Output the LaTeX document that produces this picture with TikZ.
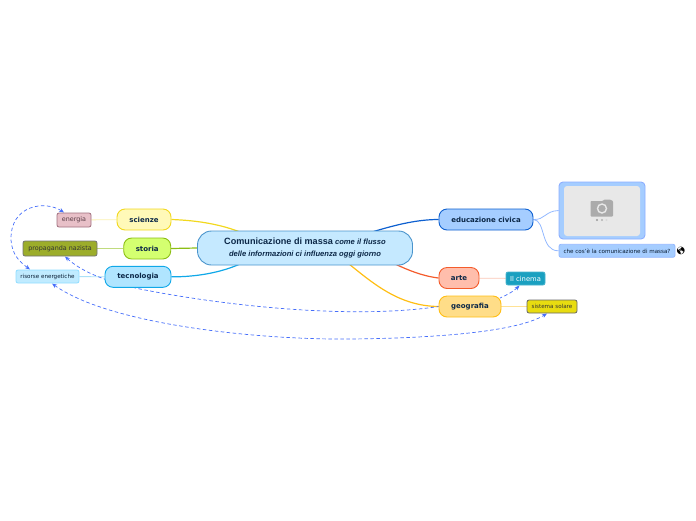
\documentclass[tikz,border=0pt]{standalone}
\usepackage{fontspec}
\setmainfont{DejaVu Sans}
\newfontfamily\headfont{Liberation Sans}
\newfontfamily\emojifont{Noto Emoji}
\usetikzlibrary{arrows.meta, backgrounds}
\definecolor{inktext}{RGB}{12, 40, 72}
\definecolor{rootfill}{RGB}{197, 233, 255}
\definecolor{rootline}{RGB}{74, 148, 204}
\definecolor{scifill}{RGB}{255, 249, 184}
\definecolor{sciline}{RGB}{242, 216, 30}
\definecolor{stofill}{RGB}{212, 255, 112}
\definecolor{stoline}{RGB}{140, 190, 20}
\definecolor{tecfill}{RGB}{176, 229, 255}
\definecolor{tecline}{RGB}{16, 168, 232}
\definecolor{edufill}{RGB}{165, 205, 255}
\definecolor{eduline}{RGB}{14, 96, 208}
\definecolor{artfill}{RGB}{255, 190, 172}
\definecolor{artline}{RGB}{244, 92, 44}
\definecolor{geofill}{RGB}{255, 221, 136}
\definecolor{geoline}{RGB}{255, 190, 20}
\definecolor{enefill}{RGB}{232, 192, 200}
\definecolor{eneline}{RGB}{160, 110, 125}
\definecolor{profill}{RGB}{156, 173, 42}
\definecolor{risfill}{RGB}{192, 235, 255}
\definecolor{risline}{RGB}{144, 221, 255}
\definecolor{cinfill}{RGB}{26, 160, 192}
\definecolor{solfill}{RGB}{232, 220, 16}
\definecolor{linkblue}{RGB}{70, 110, 250}

\begin{document}
\begin{tikzpicture}[
    x=1pt, y=-1pt,
    topic/.style 2 args={
        rectangle, rounded corners=8pt, draw=#1, fill=#2, line width=0.9pt,
        inner sep=0pt, font=\fontsize{7}{8}\selectfont\bfseries, text=inktext
    },
    leaf/.style 2 args={
        rectangle, rounded corners=2pt, draw=#1, fill=#2, line width=0.8pt,
        inner sep=0pt, font=\fontsize{6.4}{8}\selectfont, text=inktext!70!black
    },
    branch/.style={line width=1.2pt, #1},
    twig/.style={line width=0.8pt, #1},
    link/.style={
        {Stealth[length=5pt, width=4pt]}-, dash pattern=on 3.5pt off 2.5pt,
        line width=0.7pt, linkblue
    },
    linkboth/.style={
        link, {Stealth[length=5pt, width=4pt]}-{Stealth[length=5pt, width=4pt]}
    }
]
\useasboundingbox (0,0) rectangle (696,520);

% Central topic
\node[rectangle, rounded corners=14pt, draw=rootline, fill=rootfill, line width=0.9pt,
      minimum width=215pt, minimum height=34pt, inner sep=0pt, text=inktext, align=center,
      font=\headfont\fontsize{7.6}{12}\selectfont\bfseries\itshape] (root) at (305,248)
      {{\fontsize{9.1}{12}\selectfont\upshape Comunicazione di massa} come il flusso\\
       delle informazioni ci influenza oggi giorno};

% Main topics (left)
\node[topic={sciline}{scifill}, minimum width=54pt, minimum height=21pt] (scienze) at (144,219.5) {scienze};
\node[topic={stoline}{stofill}, minimum width=47pt, minimum height=21pt] (storia) at (147.2,248.5) {storia};
\node[topic={tecline}{tecfill}, minimum width=66pt, minimum height=21pt] (tecnologia) at (138,276.8) {tecnologia};

% Main topics (right)
\node[topic={eduline}{edufill}, minimum width=94pt, minimum height=21pt] (educazione) at (486,219.5) {educazione civica};
\node[topic={artline}{artfill}, minimum width=40pt, minimum height=21pt] (arte) at (459,278) {arte};
\node[topic={geoline}{geofill}, minimum width=62pt, minimum height=21pt] (geografia) at (470,306.5) {geografia};

% Subtopics
\node[leaf={eneline}{enefill}, minimum width=34pt, minimum height=14pt, text=eneline!55!black] (energia) at (74,220) {energia};
\node[leaf={black!55}{profill}, minimum width=74pt, minimum height=15pt, text=black!80] (propaganda) at (60,248.5) {propaganda nazista};
\node[leaf={risline}{risfill}, minimum width=63pt, minimum height=13pt, font=\fontsize{5.6}{7}\selectfont] (risorse) at (47.5,276.5) {risorse energetiche};
\node[leaf={cinfill!80!white}{cinfill}, minimum width=39pt, minimum height=13pt, font=\fontsize{6.8}{8}\selectfont, text=white] (cinema) at (525.5,278.5) {Il cinema};
\node[leaf={black!60}{solfill}, minimum width=50pt, minimum height=13pt, font=\fontsize{5.6}{7}\selectfont, text=black!80] (solare) at (552,306.5) {sistema solare};
\node[leaf={edufill!90!blue}{edufill}, minimum width=116pt, minimum height=13pt, font=\fontsize{5.6}{7}\selectfont] (domanda) at (617,250.8) {che cos'è la comunicazione di massa?};
\node[font=\emojifont\fontsize{7.5}{8}\selectfont, inner sep=0pt] (globo) at (681,251) {🌎};

% Image placeholder
\node[rectangle, rounded corners=4pt, draw=edufill!85!blue, fill=edufill, line width=0.9pt,
      minimum width=86pt, minimum height=57pt, inner sep=0pt] (immagine) at (602,210.5) {};
\node[rectangle, rounded corners=3pt, fill=black!9, minimum width=76pt, minimum height=50pt,
      inner sep=0pt] (sfondo) at (602,211) {};
\fill[black!33, rounded corners=0.8pt] (590.5,201) -- (603,201) -- (604,199.5) -- (610,199.5) -- (613,201) -- (613,216.5) -- (590.5,216.5) -- cycle;
\draw[black!9, line width=1.4pt] (602,208.5) circle (4.5);
\foreach \dotx/\dotcol in {597/black!40, 602/black!30, 606.5/black!15} {
    \fill[\dotcol] (\dotx,220) circle (1.2);
}

% Free ends under the central topic
\coordinate (rootsci) at (240,232);
\coordinate (roottec) at (240,264);
\coordinate (rootedu) at (372,232);
\coordinate (rootart) at (395,264);
\coordinate (rootgeo) at (349,264);

% Free ends of the relations
\coordinate (eneend) at (64,212.5);
\coordinate (risend) at (30,269.5);
\coordinate (proend) at (65,256.5);
\coordinate (risbot) at (52,283.5);
\coordinate (solbot) at (547,313.5);
\coordinate (cinbot) at (519.5,285.5);
\coordinate (geotop) at (500,298);

\begin{scope}[on background layer]
% Branches from the central topic
\draw[branch=sciline] (scienze.east) .. controls (200,220.5) and (222,225) .. (rootsci);
\draw[branch=stoline] (storia.east) -- (root.west);
\draw[branch=tecline] (tecnologia.east) .. controls (198,277) and (222,272) .. (roottec);
\draw[branch=eduline] (educazione.west) .. controls (415,219.5) and (392,226) .. (rootedu);
\draw[branch=artline] (arte.west) .. controls (422,276) and (408,270) .. (rootart);
\draw[branch=geoline] (geografia.west) .. controls (400,306) and (375,285) .. (rootgeo);

% Lines to the subtopics
\draw[twig=sciline!35] (scienze) -- (energia);
\draw[twig=stoline!55] (storia) -- (propaganda);
\draw[twig=tecline!35] (tecnologia) -- (risorse);
\draw[twig=artline!35] (arte) -- (cinema);
\draw[twig=geoline!45] (geografia) -- (solare);
\draw[twig=edufill!90!blue] (educazione.east) .. controls (545,220) and (545,211) .. (immagine.west);
\draw[twig=edufill!90!blue] (educazione.east) .. controls (546,220) and (540,251) .. (domanda.west);

% Relations between the topics
\draw[linkboth] (eneend) .. controls (45,200) and (10,205) .. (11,240)
    .. controls (12,255) and (20,262) .. (risend);
\draw[link] (proend) .. controls (80,270) and (100,280) .. (140,289)
    .. controls (220,305) and (350,320) .. (geografia.west);
\draw[linkboth] (risbot) .. controls (110,325) and (260,340) .. (350,339)
    .. controls (450,338) and (520,330) .. (solbot);
\draw[link] (cinbot) .. controls (514,291) and (507,295) .. (geotop);
\end{scope}
\end{tikzpicture}
\end{document}
